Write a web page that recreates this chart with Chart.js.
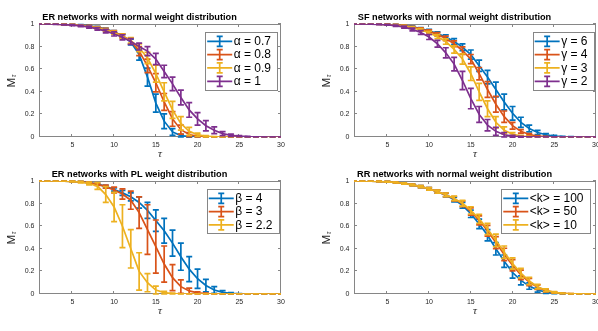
<!DOCTYPE html>
<html>
<head>
<meta charset="utf-8">
<script src="https://cdn.jsdelivr.net/npm/chart.js@4.4.0/dist/chart.umd.min.js"></script>
<style>
  body { margin: 0; background: #fff; width: 598px; height: 331px; overflow: hidden; position: relative; }
  canvas { position: absolute; }
</style>
</head>
<body>
<canvas id="erNormal" width="290" height="165" style="left:0;top:0"></canvas>
<canvas id="sfNormal" width="290" height="165" style="left:315px;top:0"></canvas>
<canvas id="erPL" width="290" height="165" style="left:0;top:157px"></canvas>
<canvas id="rrNormal" width="290" height="165" style="left:315px;top:157px"></canvas>
<script>
// data
const tau = [1,2,3,4,5,6,7,8,9,10,11,12,13,14,15,16,17,18,19,20,21,22,23,24,25,26,27,28,29,30];
const xTickVals = [5, 10, 15, 20, 25, 30];
const yTickVals = [0, 0.2, 0.4, 0.6, 0.8, 1];
const yTickLabels = ['0', '0.2', '0.4', '0.6', '0.8', '1'];

// ER networks, normal weights
const erAlphaLabels = ['\u03B1 = 0.7', '\u03B1 = 0.8', '\u03B1 = 0.9', '\u03B1 = 1'];
const erA07 = [1,1,0.999,0.998,0.995,0.99,0.983,0.972,0.955,0.93,0.895,0.84,0.73,0.53,0.3,0.14,0.045,0.012,0.003,0.001,0,0,0,0,0,0,0,0,0,0];
const erA07Err = [0,0,0.001,0.002,0.003,0.004,0.005,0.007,0.009,0.012,0.016,0.025,0.05,0.08,0.08,0.065,0.03,0.012,0.004,0.001,0,0,0,0,0,0,0,0,0,0];
const erA08 = [1,1,0.999,0.997,0.994,0.989,0.981,0.97,0.952,0.928,0.895,0.85,0.76,0.63,0.48,0.31,0.16,0.065,0.022,0.007,0.002,0.001,0,0,0,0,0,0,0,0];
const erA08Err = [0,0,0.001,0.002,0.003,0.004,0.006,0.008,0.01,0.013,0.017,0.025,0.04,0.06,0.08,0.075,0.065,0.04,0.018,0.007,0.002,0.001,0,0,0,0,0,0,0,0];
const erA09 = [1,1,0.999,0.997,0.993,0.987,0.978,0.966,0.948,0.924,0.892,0.855,0.79,0.7,0.56,0.4,0.24,0.12,0.05,0.02,0.007,0.002,0.001,0,0,0,0,0,0,0];
const erA09Err = [0,0,0.001,0.002,0.003,0.005,0.006,0.008,0.011,0.014,0.018,0.024,0.035,0.05,0.075,0.08,0.075,0.06,0.035,0.015,0.006,0.002,0.001,0,0,0,0,0,0,0];
const erA10 = [1,1,0.998,0.995,0.99,0.983,0.972,0.957,0.937,0.912,0.882,0.845,0.8,0.76,0.69,0.58,0.47,0.35,0.24,0.16,0.1,0.06,0.03,0.015,0.007,0.003,0.001,0,0,0];
const erA10Err = [0,0,0.002,0.003,0.005,0.007,0.009,0.012,0.015,0.018,0.022,0.026,0.03,0.04,0.05,0.055,0.06,0.065,0.065,0.055,0.045,0.03,0.018,0.01,0.005,0.002,0.001,0,0,0];

// SF networks, normal weights
const sfGammaLabels = ['\u03B3 = 6', '\u03B3 = 4', '\u03B3 = 3', '\u03B3 = 2'];
const sfG6 = [1,1,1,0.999,0.997,0.993,0.986,0.975,0.96,0.94,0.915,0.885,0.845,0.795,0.73,0.63,0.53,0.42,0.31,0.21,0.13,0.075,0.04,0.02,0.009,0.004,0.002,0.001,0,0];
const sfG6Err = [0,0,0,0.001,0.002,0.003,0.005,0.007,0.009,0.012,0.015,0.02,0.025,0.03,0.04,0.05,0.06,0.065,0.07,0.06,0.045,0.03,0.018,0.01,0.005,0.002,0.001,0,0,0];
const sfG4 = [1,1,1,0.999,0.997,0.993,0.985,0.973,0.957,0.935,0.908,0.872,0.825,0.765,0.69,0.56,0.42,0.29,0.18,0.1,0.05,0.022,0.009,0.004,0.001,0,0,0,0,0];
const sfG4Err = [0,0,0,0.001,0.002,0.003,0.005,0.007,0.01,0.013,0.016,0.02,0.026,0.033,0.04,0.055,0.07,0.07,0.05,0.03,0.015,0.007,0.003,0.001,0,0,0,0,0,0];
const sfG3 = [1,1,1,0.998,0.995,0.99,0.981,0.967,0.948,0.922,0.888,0.845,0.775,0.69,0.56,0.4,0.25,0.13,0.06,0.025,0.009,0.003,0.001,0,0,0,0,0,0,0];
const sfG3Err = [0,0,0,0.001,0.002,0.004,0.006,0.008,0.011,0.014,0.018,0.024,0.032,0.045,0.06,0.075,0.07,0.05,0.03,0.013,0.005,0.002,0,0,0,0,0,0,0,0];
const sfG2 = [1,1,0.999,0.997,0.993,0.985,0.972,0.952,0.925,0.885,0.825,0.745,0.645,0.5,0.34,0.2,0.105,0.05,0.02,0.007,0.002,0.001,0,0,0,0,0,0,0,0];
const sfG2Err = [0,0,0.001,0.002,0.004,0.006,0.009,0.012,0.016,0.022,0.03,0.045,0.06,0.08,0.09,0.07,0.05,0.035,0.02,0.008,0.003,0.001,0,0,0,0,0,0,0,0];

// ER networks, power-law weights
const plBetaLabels = ['\u03B2 = 4', '\u03B2 = 3', '\u03B2 = 2.2'];
const plB4 = [1,1,1,0.999,0.997,0.993,0.985,0.972,0.952,0.925,0.895,0.86,0.81,0.74,0.65,0.56,0.45,0.33,0.22,0.135,0.075,0.035,0.015,0.006,0.002,0.001,0,0,0,0];
const plB4Err = [0,0,0,0.001,0.002,0.003,0.005,0.007,0.01,0.015,0.022,0.035,0.05,0.07,0.095,0.11,0.115,0.12,0.11,0.085,0.055,0.03,0.015,0.006,0.002,0,0,0,0,0];
const plB3 = [1,1,1,0.999,0.997,0.993,0.985,0.97,0.95,0.92,0.885,0.83,0.72,0.57,0.42,0.265,0.145,0.065,0.027,0.01,0.004,0.001,0,0,0,0,0,0,0,0];
const plB3Err = [0,0,0,0.001,0.002,0.004,0.006,0.009,0.014,0.025,0.045,0.08,0.14,0.22,0.235,0.16,0.115,0.06,0.025,0.01,0.004,0.001,0,0,0,0,0,0,0,0];
const plB22 = [1,1,1,0.999,0.996,0.99,0.978,0.955,0.88,0.77,0.6,0.4,0.2,0.1,0.035,0.012,0.004,0.001,0,0,0,0,0,0,0,0,0,0,0,0];
const plB22Err = [0,0,0,0.001,0.003,0.006,0.012,0.03,0.07,0.13,0.19,0.17,0.165,0.08,0.035,0.012,0.004,0.001,0,0,0,0,0,0,0,0,0,0,0,0];

// RR networks, normal weights
const rrKLabels = ['<k> = 100', '<k> = 50', '<k> = 10'];
const rrK100 = [1,1,0.999,0.997,0.993,0.987,0.978,0.966,0.95,0.93,0.905,0.875,0.835,0.785,0.71,0.62,0.52,0.4,0.29,0.19,0.12,0.07,0.035,0.016,0.007,0.003,0.001,0,0,0];
const rrK100Err = [0,0,0.001,0.002,0.003,0.004,0.005,0.007,0.009,0.011,0.013,0.016,0.02,0.026,0.033,0.042,0.05,0.055,0.055,0.05,0.04,0.028,0.018,0.01,0.005,0.002,0.001,0,0,0];
const rrK50 = [1,1,0.999,0.997,0.993,0.987,0.978,0.966,0.95,0.93,0.906,0.877,0.843,0.798,0.73,0.652,0.56,0.455,0.35,0.255,0.17,0.105,0.06,0.03,0.014,0.006,0.002,0.001,0,0];
const rrK50Err = [0,0,0.001,0.002,0.003,0.004,0.005,0.007,0.009,0.011,0.013,0.016,0.02,0.025,0.032,0.04,0.048,0.053,0.055,0.05,0.042,0.032,0.02,0.012,0.006,0.003,0.001,0,0,0];
const rrK10 = [1,1,0.999,0.997,0.993,0.987,0.978,0.966,0.95,0.93,0.906,0.878,0.846,0.803,0.74,0.665,0.575,0.475,0.37,0.27,0.185,0.115,0.065,0.033,0.015,0.006,0.002,0.001,0,0];
const rrK10Err = [0,0,0.001,0.002,0.003,0.004,0.005,0.007,0.009,0.011,0.013,0.016,0.02,0.025,0.032,0.04,0.05,0.055,0.055,0.05,0.042,0.032,0.02,0.012,0.006,0.003,0.001,0,0,0];

const colors = ['#0072BD', '#D95319', '#EDB120', '#7E2F8E'];
const FONT = '"Liberation Sans", Arial, Helvetica, sans-serif';
const axisColor = '#262626';
const boxColor = '#868686';
const lineW = 1.7;

// error bars, drawn right after each line so stacking follows the series order
const errorBars = {
  id: 'errorBars',
  afterDatasetDraw(chart, args) {
    const ds = chart.data.datasets[args.index];
    const xs = chart.scales.x, ys = chart.scales.y, a = chart.chartArea;
    const ctx = chart.ctx;
    ctx.save();
    ctx.beginPath();
    ctx.rect(a.left, a.top - 2, a.right - a.left, a.bottom - a.top + 4);
    ctx.clip();
    ctx.strokeStyle = ds.borderColor;
    ctx.lineWidth = lineW;
    ds.data.forEach((p, j) => {
      const e = ds.errors[j];
      const x = xs.getPixelForValue(p.x);
      const y1 = ys.getPixelForValue(p.y + e), y2 = ys.getPixelForValue(p.y - e);
      ctx.beginPath();
      ctx.moveTo(x, y1); ctx.lineTo(x, y2);
      ctx.moveTo(x - 3, y1); ctx.lineTo(x + 3, y1);
      ctx.moveTo(x - 3, y2); ctx.lineTo(x + 3, y2);
      ctx.stroke();
    });
    ctx.restore();
  }
};

// box, inward ticks, title, axis labels, legend
const panelDeco = {
  id: 'panelDeco',
  beforeDatasetsDraw(chart) {
    const ctx = chart.ctx, a = chart.chartArea, xs = chart.scales.x, ys = chart.scales.y;
    ctx.save();
    ctx.strokeStyle = boxColor;
    ctx.lineWidth = 1;
    ctx.strokeRect(a.left + 0.5, a.top + 0.5, a.right - a.left - 1, a.bottom - a.top - 1);
    ctx.beginPath();
    xTickVals.forEach(v => {
      const x = Math.round(xs.getPixelForValue(v)) - 0.5;
      ctx.moveTo(x, a.bottom); ctx.lineTo(x, a.bottom - 3);
      ctx.moveTo(x, a.top); ctx.lineTo(x, a.top + 3);
    });
    yTickVals.forEach(v => {
      const y = Math.round(ys.getPixelForValue(v)) - 0.5;
      ctx.moveTo(a.left, y); ctx.lineTo(a.left + 3, y);
      ctx.moveTo(a.right, y); ctx.lineTo(a.right - 3, y);
    });
    ctx.stroke();
    ctx.restore();
  },
  afterDraw(chart, args, opts) {
    const ctx = chart.ctx, a = chart.chartArea;
    ctx.save();
    // title
    ctx.fillStyle = '#000';
    ctx.font = 'bold 9.2px ' + FONT;
    ctx.textAlign = 'center';
    ctx.textBaseline = 'alphabetic';
    ctx.fillText(opts.title, 139.5, 20);
    // x label
    ctx.fillStyle = axisColor;
    ctx.font = 'italic 11px "Liberation Serif", "DejaVu Serif", serif';
    ctx.fillText('\u03C4', (a.left + a.right) / 2, 157);
    // y label M_tau
    ctx.save();
    ctx.translate(14.5, (a.top + a.bottom) / 2);
    ctx.rotate(-Math.PI / 2);
    ctx.textAlign = 'left';
    ctx.font = '11.5px ' + FONT;
    ctx.fillText('M', -7, 0);
    ctx.font = 'italic 7.5px "Liberation Serif", "DejaVu Serif", serif';
    ctx.fillText('\u03C4', 3.3, 1.5);
    ctx.restore();
    // legend
    const sets = chart.data.datasets;
    ctx.font = '12px ' + FONT;
    const textW = Math.max(...sets.map(d => ctx.measureText(d.label).width));
    const w = 29 + textW + 6;
    const right = a.right - opts.legendInset;
    const left = right - w;
    const top = a.top + 8;
    const h = 9.3 + (sets.length - 1) * 13.33 + 8.4;
    ctx.fillStyle = '#fff';
    ctx.fillRect(left, top, w, h);
    ctx.strokeStyle = boxColor;
    ctx.lineWidth = 1;
    ctx.strokeRect(Math.round(left) + 0.5, Math.round(top) + 0.5, Math.round(w), Math.round(h));
    sets.forEach((d, i) => {
      const cy = top + 9.3 + i * 13.33;
      const sx = left + 2, ex = left + 27, mx = left + 14.5;
      ctx.strokeStyle = d.borderColor;
      ctx.lineWidth = lineW;
      ctx.beginPath();
      ctx.moveTo(sx, cy); ctx.lineTo(ex, cy);
      ctx.moveTo(mx, cy - 5); ctx.lineTo(mx, cy + 5);
      ctx.moveTo(mx - 3, cy - 5); ctx.lineTo(mx + 3, cy - 5);
      ctx.moveTo(mx - 3, cy + 5); ctx.lineTo(mx + 3, cy + 5);
      ctx.stroke();
      ctx.fillStyle = '#000';
      ctx.textAlign = 'left';
      ctx.textBaseline = 'middle';
      ctx.fillText(d.label, left + 28.5, cy + 0.5);
    });
    ctx.restore();
  }
};

function makePanel(id, title, labels, means, errs, legendInset) {
  new Chart(document.getElementById(id), {
    type: 'line',
    data: {
      datasets: means.map((m, i) => ({
        label: labels[i],
        data: tau.map((t, j) => ({ x: t, y: m[j] })),
        errors: errs[i],
        borderColor: colors[i],
        borderWidth: lineW,
        pointRadius: 0,
        fill: false,
        tension: 0,
        order: means.length - i
      }))
    },
    options: {
      responsive: false,
      animation: false,
      layout: { padding: { left: 0, top: 24, right: 9, bottom: 0 } },
      plugins: {
        legend: { display: false },
        tooltip: { enabled: false },
        panelDeco: { title: title, legendInset: legendInset }
      },
      scales: {
        x: {
          type: 'linear', min: 1, max: 30,
          afterBuildTicks: s => { s.ticks = xTickVals.map(v => ({ value: v })); },
          afterFit: s => { s.height = 28; s.paddingLeft = 0; s.paddingRight = 0; },
          grid: { display: false, drawTicks: false },
          border: { display: false },
          ticks: { color: axisColor, font: { size: 7, family: FONT }, padding: 4, maxRotation: 0, autoSkip: false }
        },
        y: {
          type: 'linear', min: 0, max: 1,
          afterBuildTicks: s => { s.ticks = yTickVals.map(v => ({ value: v })); },
          afterFit: s => { s.width = 39; s.paddingTop = 0; s.paddingBottom = 0; },
          grid: { display: false, drawTicks: false },
          border: { display: false },
          ticks: {
            color: axisColor, font: { size: 7, family: FONT }, padding: 4.5, autoSkip: false,
            callback: v => yTickLabels[yTickVals.indexOf(v)]
          }
        }
      }
    },
    plugins: [errorBars, panelDeco]
  });
}

makePanel('erNormal', 'ER networks with normal weight distribution', erAlphaLabels,
  [erA07, erA08, erA09, erA10], [erA07Err, erA08Err, erA09Err, erA10Err], 3.5);
makePanel('sfNormal', 'SF networks with normal weight distribution', sfGammaLabels,
  [sfG6, sfG4, sfG3, sfG2], [sfG6Err, sfG4Err, sfG3Err, sfG2Err], 2);
makePanel('erPL', 'ER networks with PL weight distribution', plBetaLabels,
  [plB4, plB3, plB22], [plB4Err, plB3Err, plB22Err], 2);
makePanel('rrNormal', 'RR networks with normal weight distribution', rrKLabels,
  [rrK100, rrK50, rrK10], [rrK100Err, rrK50Err, rrK10Err], 6);
</script>
</body>
</html>
